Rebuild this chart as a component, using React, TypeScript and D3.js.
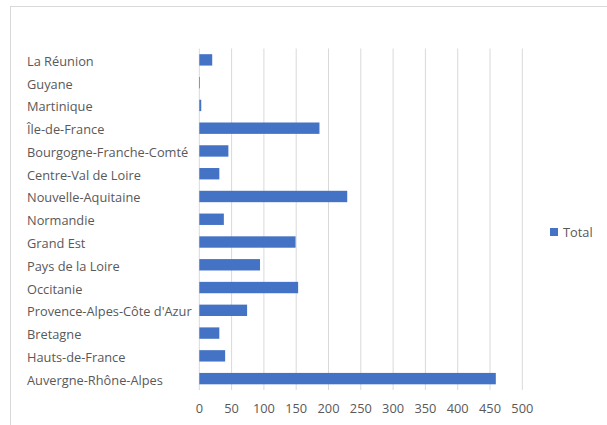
import React from "react";
import * as d3 from "d3";

const categories = [
  "La Réunion",
  "Guyane",
  "Martinique",
  "Île-de-France",
  "Bourgogne-Franche-Comté",
  "Centre-Val de Loire",
  "Nouvelle-Aquitaine",
  "Normandie",
  "Grand Est",
  "Pays de la Loire",
  "Occitanie",
  "Provence-Alpes-Côte d'Azur",
  "Bretagne",
  "Hauts-de-France",
  "Auvergne-Rhône-Alpes",
];
const totals = [20, 1, 3, 186, 45, 31, 229, 38, 149, 94, 153, 74, 31, 40, 459];
const xTicks = [0, 50, 100, 150, 200, 250, 300, 350, 400, 450, 500];
const seriesName = "Total";

const W = 607;
const H = 425;
const FONT = "'Segoe UI', 'Open Sans', 'Noto Sans', sans-serif";
const FS = 12.8;

export default function App() {
  const x = d3.scaleLinear().domain([0, 500]).range([199.3, 522.3]);
  const y = d3.scaleBand<string>().domain(categories).range([48.5, 390]).paddingInner(0.5).paddingOuter(0.25);
  const band = d3.scaleBand<string>().domain(categories).range([48.5, 390]);

  return (
    <svg width={W} height={H} style={{ position: "absolute", left: 0, top: 0, background: "#fff" }}>
      <rect x={10.5} y={6.5} width={W} height={H} fill="#fff" stroke="#d9d9d9" strokeWidth={1} />
      {xTicks.map((t) => (
        <line key={t} x1={x(t)} x2={x(t)} y1={48.5} y2={390} stroke="#d9d9d9" strokeWidth={1} />
      ))}
      {categories.map((c, i) => (
        <rect key={c} x={x(0)} y={y(c)} width={x(totals[i]) - x(0)} height={y.bandwidth()} fill="#4472c4" />
      ))}
      {categories.map((c) => (
        <text
          key={c}
          x={27}
          y={(band(c) as number) + band.bandwidth() / 2 + 1.5}
          dy="0.35em"
          fontFamily={FONT}
          fontSize={FS}
          fill="#595959"
        >
          {c}
        </text>
      ))}
      {xTicks.map((t) => (
        <text key={t} x={x(t)} y={408.5} dy="0.35em" textAnchor="middle" fontFamily={FONT} fontSize={FS} fill="#595959">
          {t}
        </text>
      ))}
      <rect x={550} y={228} width={8} height={8} fill="#4472c4" />
      <text x={563} y={233} dy="0.35em" fontFamily={FONT} fontSize={FS} fill="#595959">
        {seriesName}
      </text>
    </svg>
  );
}
